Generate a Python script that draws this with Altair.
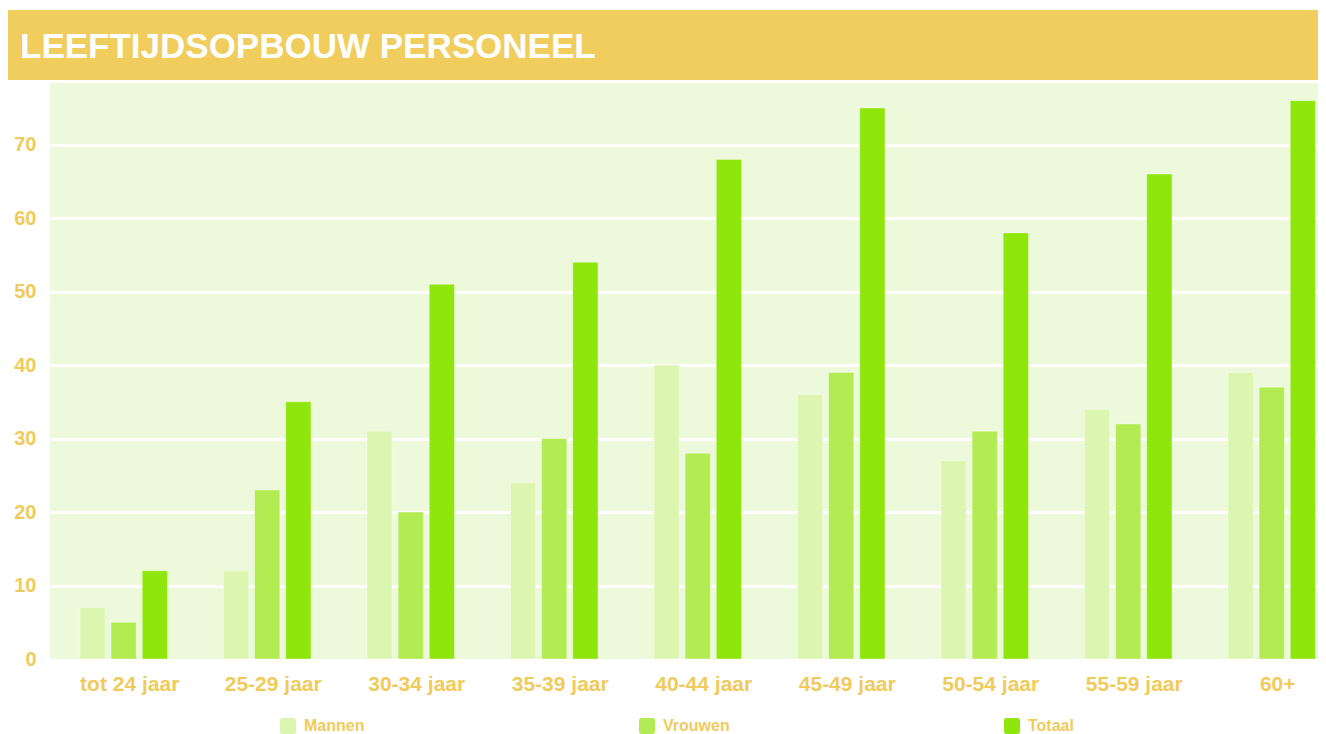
import altair as alt
import pandas as pd

categories = ["tot 24 jaar", "25-29 jaar", "30-34 jaar", "35-39 jaar", "40-44 jaar",
              "45-49 jaar", "50-54 jaar", "55-59 jaar", "60+"]
series = ["Mannen", "Vrouwen", "Totaal"]
mannen = [7, 12, 31, 24, 40, 36, 27, 34, 39]
vrouwen = [5, 23, 20, 30, 28, 39, 31, 32, 37]
totaal = [12, 35, 51, 54, 68, 75, 58, 66, 76]
colors = ["#DCF6B1", "#B3EC52", "#8EE60A"]
y_ticks = [0, 10, 20, 30, 40, 50, 60, 70]
title_text = "LEEFTIJDSOPBOUW PERSONEEL"

GOLD = "#F0CB5C"
BANNER = "#F0CD5D"
FONT = "Liberation Sans"

rows = []
for i, c in enumerate(categories):
    for s, vals in zip(series, [mannen, vrouwen, totaal]):
        rows.append({"leeftijd": c, "groep": s, "aantal": vals[i]})
df = pd.DataFrame(rows)

W, H = 1268, 576

rounded = ("M -0.7,-1 L 0.7,-1 A 0.3,0.3 0 0 1 1,-0.7 L 1,0.7 A 0.3,0.3 0 0 1 0.7,1 "
           "L -0.7,1 A 0.3,0.3 0 0 1 -1,0.7 L -1,-0.7 A 0.3,0.3 0 0 1 -0.7,-1 Z")

bars = alt.Chart(df).mark_bar(stroke="#FFFFFF", strokeOpacity=0.35, strokeWidth=1).encode(
    x=alt.X("leeftijd:N", sort=categories,
            scale=alt.Scale(paddingInner=0.39, paddingOuter=0.113, align=0.923),
            axis=alt.Axis(title=None, labelAngle=0, labelFont=FONT, labelFontSize=21,
                          labelFontWeight="bold", labelColor=GOLD, labelPadding=14,
                          labelOffset=6, ticks=False, domain=False, grid=False)),
    xOffset=alt.XOffset("groep:N", sort=series,
                        scale=alt.Scale(paddingInner=0.19, paddingOuter=0)),
    y=alt.Y("aantal:Q", scale=alt.Scale(domain=[0, 78.4], nice=False),
            axis=alt.Axis(title=None, values=y_ticks, labelFont=FONT, labelFontSize=20,
                          labelFontWeight="bold", labelColor=GOLD, labelPadding=14,
                          ticks=False, domain=False, grid=True, gridColor="#FFFFFF",
                          gridWidth=3,
                          gridOpacity={"condition": {"test": "datum.value === 0", "value": 0},
                                       "value": 1})),
    color=alt.Color("groep:N", sort=series,
                    scale=alt.Scale(domain=series, range=colors),
                    legend=alt.Legend(title=None, orient="none", direction="horizontal",
                                      legendX=230, legendY=635, columns=3,
                                      columnPadding=274, symbolType=rounded,
                                      symbolSize=256, symbolStrokeWidth=0,
                                      symbolOpacity=1, labelOffset=8,
                                      labelFont=FONT, labelFontSize=16,
                                      labelFontWeight="bold", labelColor=GOLD,
                                      padding=0, offset=0)),
)

banner_df = pd.DataFrame({"titel": [title_text]})
banner = alt.Chart(banner_df).mark_rect(color=BANNER).encode(
    x=alt.value(-42), x2=alt.value(W), y=alt.value(-73), y2=alt.value(-3)
)
title = alt.Chart(banner_df).mark_text(
    align="left", baseline="alphabetic", font=FONT, fontSize=35,
    fontWeight="bold", color="#FFFFFF"
).encode(x=alt.value(-30), y=alt.value(-25), text="titel:N")

chart = alt.layer(banner, title, bars).properties(
    width=W, height=H,
    padding={"left": 0, "top": 2, "right": 0, "bottom": 0},
    background="#FFFFFF",
).configure_view(fill="#EDF9DB", stroke=None)

chart.save("out.html", embed_options={"renderer": "svg", "actions": False})
